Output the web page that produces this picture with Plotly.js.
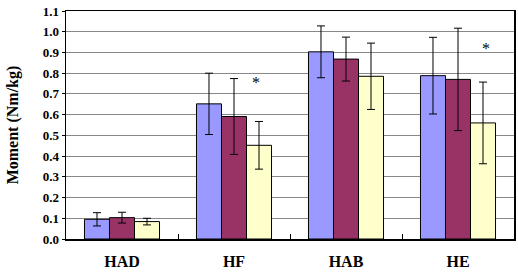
<!DOCTYPE html>
<html>
<head>
<meta charset="utf-8">
<script src="https://cdn.plot.ly/plotly-3.0.1.min.js"></script>
<style>html,body{margin:0;padding:0;background:#fff;}#chart{width:518px;height:273px;}</style>
</head>
<body>
<div id="chart"></div>
<script>
const categories = ["HAD", "HF", "HAB", "HE"];
const series1 = [0.095, 0.652, 0.903, 0.788];
const series1Err = [0.032, 0.148, 0.125, 0.185];
const series2 = [0.103, 0.591, 0.868, 0.770];
const series2Err = [0.026, 0.183, 0.106, 0.247];
const series3 = [0.084, 0.452, 0.785, 0.560];
const series3Err = [0.016, 0.115, 0.160, 0.197];
const starPositions = [1.2, 3.25];
const starValues = [0.755, 0.92];
const yTicks = [0, 0.1, 0.2, 0.3, 0.4, 0.5, 0.6, 0.7, 0.8, 0.9, 1.0, 1.1];

function bar(vals, errs, color) {
  return {
    type: "bar", x: categories, y: vals,
    marker: {color: color, line: {color: "#000", width: 1}},
    error_y: {type: "data", array: errs, visible: true, color: "#000", thickness: 1, width: 4},
    hoverinfo: "none"
  };
}

const data = [
  bar(series1, series1Err, "#9999FF"),
  bar(series2, series2Err, "#993366"),
  bar(series3, series3Err, "#FFFFCC")
];

const fontFam = "Liberation Serif, Times New Roman, serif";

const layout = {
  width: 518, height: 273,
  margin: {l: 66, r: 4, t: 11, b: 34},
  paper_bgcolor: "#fff", plot_bgcolor: "#fff",
  showlegend: false,
  barmode: "group", bargap: 0.33, bargroupgap: 0,
  font: {family: fontFam, color: "rgb(0,0,0)"},
  xaxis: {
    type: "category",
    tickson: "boundaries", ticks: "inside", ticklen: 5, tickcolor: "#000",
    showline: true, linecolor: "#000", linewidth: 1.5, mirror: true,
    showgrid: false,
    tickfont: {family: fontFam, size: 16, weight: "bold", color: "rgb(0,0,0)"},
    ticklabelstandoff: 7
  },
  yaxis: {
    range: [0, 1.1], tickvals: yTicks,
    ticktext: yTicks.map(v => v.toFixed(1)),
    ticks: "outside", ticklen: 3, tickcolor: "#000",
    showline: true, linecolor: "#000", linewidth: 1.5, mirror: true,
    showgrid: true, gridcolor: "#888", gridwidth: 1,
    zeroline: false,
    tickfont: {family: fontFam, size: 13, weight: "bold", color: "rgb(0,0,0)"},
    title: {text: "Moment (Nm/kg)", font: {family: fontFam, size: 16, weight: "bold", color: "rgb(0,0,0)"}, standoff: 20}
  },
  annotations: starPositions.map((p, i) => ({
    x: p, y: starValues[i], xref: "x", yref: "y", text: "*",
    showarrow: false, font: {family: fontFam, size: 16, color: "rgb(0,0,0)"}
  }))
};

Plotly.newPlot("chart", data, layout, {staticPlot: true});
</script>
</body>
</html>
